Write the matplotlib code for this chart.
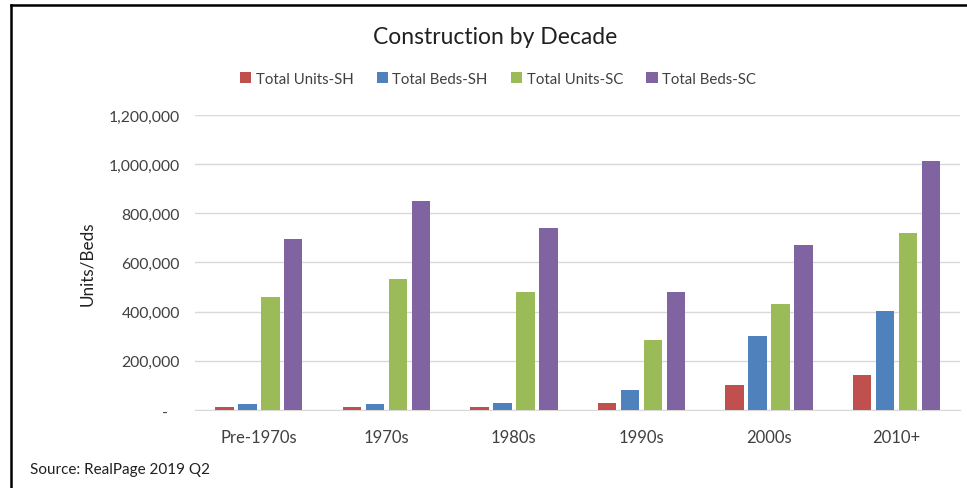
import matplotlib.pyplot as plt
from matplotlib.lines import Line2D
import numpy as np

plt.rcParams['font.family'] = ['Lato', 'DejaVu Sans']

decades = ['Pre-1970s', '1970s', '1980s', '1990s', '2000s', '2010+']
units_sh = [12000, 12000, 12000, 28000, 102000, 142000]
beds_sh = [25000, 24000, 28000, 81000, 301000, 403000]
units_sc = [460000, 533000, 480000, 285000, 431000, 720000]
beds_sc = [697000, 850000, 740000, 480000, 671000, 1013000]

series = [
    ('Total Units-SH', units_sh, '#C0504D'),
    ('Total Beds-SH', beds_sh, '#4F81BD'),
    ('Total Units-SC', units_sc, '#9BBB59'),
    ('Total Beds-SC', beds_sc, '#8064A2'),
]

fig = plt.figure(figsize=(9.67, 4.89), dpi=100)
ax = fig.add_axes([0.2017, 0.1595, 0.7913, 0.6033])

x = np.arange(len(decades))
w = 0.145
step = 0.18
for i, (name, vals, col) in enumerate(series):
    ax.bar(x + (i - 1.5) * step, vals, w, color=col, label=name, zorder=3)

ax.set_xlim(-0.5, len(decades) - 0.5)
ax.set_ylim(0, 1200000)
ax.set_yticks(np.arange(0, 1200001, 200000))
ax.set_yticklabels(['-   '] + ['{:,}'.format(v) for v in range(200000, 1200001, 200000)])
ax.set_xticks(x)
ax.set_xticklabels(decades)
ax.tick_params(length=0, colors='#404040')
ax.tick_params(axis='y', pad=11, labelsize=11.3)
ax.tick_params(axis='x', pad=14, labelsize=12)
ax.grid(axis='y', color='#D9D9D9', linewidth=1, zorder=0)
for s in ['top', 'right', 'left']:
    ax.spines[s].set_visible(False)
ax.spines['bottom'].set_color('#D9D9D9')
ax.set_ylabel('Units/Beds', fontsize=12.3, color='#202020', labelpad=10)

fig.text(0.512, 1 - 37 / 489, 'Construction by Decade', ha='center', va='center',
         fontsize=16.5, color='#202020')
fig.legend(loc='center', bbox_to_anchor=(0.515, 1 - 80 / 489), ncol=4, frameon=False,
           handlelength=0.75, handleheight=0.75, handletextpad=0.3, columnspacing=1.55,
           fontsize=10.8, labelcolor='#404040')
fig.text(30 / 967, 1 - 470 / 489, 'Source: RealPage 2019 Q2', ha='left', va='center',
         fontsize=11, color='#202020')

# chart border (top and left edges)
fig.add_artist(Line2D([10.5 / 967, 1], [1 - 5.5 / 489] * 2, color='black', lw=1.8))
fig.add_artist(Line2D([10.5 / 967] * 2, [0, 1 - 5.5 / 489], color='black', lw=1.8))

fig.savefig('out.png', dpi=100)
